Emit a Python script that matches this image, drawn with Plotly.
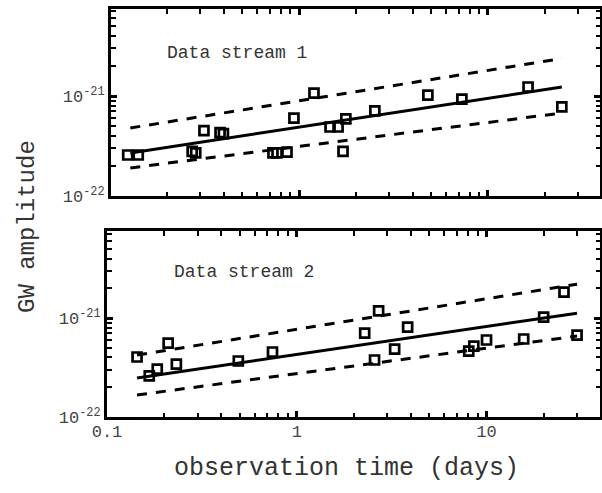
import plotly.graph_objects as go

# ---- Data stream 1 (top panel) ----
t1 = [0.124, 0.141, 0.272, 0.284, 0.314, 0.382, 0.398, 0.728, 0.765, 0.864, 0.94,
      1.20, 1.46, 1.61, 1.71, 1.77, 2.52, 4.81, 7.28, 16.3, 24.6]
h1 = [2.57e-22, 2.57e-22, 2.80e-22, 2.70e-22, 4.50e-22, 4.30e-22, 4.20e-22, 2.70e-22,
      2.70e-22, 2.75e-22, 6.00e-22, 1.07e-21, 4.90e-22, 4.90e-22, 2.80e-22, 5.90e-22,
      7.10e-22, 1.02e-21, 9.30e-22, 1.23e-21, 7.80e-22]
fit1_t = [0.128, 24.6]
fit1_mid = [2.69e-22, 1.23e-21]
fit1_hi = [4.79e-22, 2.37e-21]
fit1_lo = [1.91e-22, 6.75e-22]

# ---- Data stream 2 (bottom panel) ----
t2 = [0.144, 0.167, 0.184, 0.210, 0.232, 0.492, 0.745, 2.28, 2.70, 2.57, 3.28, 3.84,
      8.06, 8.57, 10.0, 15.7, 20.0, 25.6, 30.0]
h2 = [4.04e-22, 2.60e-22, 3.05e-22, 5.58e-22, 3.43e-22, 3.68e-22, 4.54e-22, 7.05e-22,
      1.18e-21, 3.77e-22, 4.86e-22, 8.10e-22, 4.64e-22, 5.21e-22, 6.00e-22, 6.14e-22,
      1.02e-21, 1.83e-21, 6.73e-22]
fit2_t = [0.144, 30.0]
fit2_mid = [2.48e-22, 1.12e-21]
fit2_hi = [4.23e-22, 2.20e-21]
fit2_lo = [1.67e-22, 6.58e-22]

# tick labels
y_tickvals = [1e-22, 1e-21]
y_ticktext = ["10<sup>-22</sup>", "10<sup>-21</sup>"]
x_tickvals = [0.1, 1, 10]
x_ticktext = ["0.1", "1", "10"]

FONT = "Liberation Mono, Courier New, monospace"
W, H = 602, 493

marker = dict(symbol="square-open", size=9, color="black", line=dict(width=2.7, color="black"))
solid = dict(color="black", width=3)
dashed = dict(color="black", width=3, dash="10px,9px")

fig = go.Figure()

def add_panel(t, h, ft, fmid, fhi, flo, xa, ya):
    fig.add_trace(go.Scatter(x=ft, y=fhi, mode="lines", line=dashed, xaxis=xa, yaxis=ya))
    fig.add_trace(go.Scatter(x=ft, y=flo, mode="lines", line=dashed, xaxis=xa, yaxis=ya))
    fig.add_trace(go.Scatter(x=ft, y=fmid, mode="lines", line=solid, xaxis=xa, yaxis=ya))
    fig.add_trace(go.Scatter(x=t, y=h, mode="markers", marker=marker, xaxis=xa, yaxis=ya))

add_panel(t1, h1, fit1_t, fit1_mid, fit1_hi, fit1_lo, "x2", "y2")
add_panel(t2, h2, fit2_t, fit2_mid, fit2_hi, fit2_lo, "x", "y")

def ax(domain, rng, showlabels, anchor, tv, tt, standoff=0):
    return dict(
        type="log", domain=domain, range=rng, anchor=anchor, automargin=False,
        showline=True, linewidth=3, linecolor="black", mirror="allticks",
        ticks="inside", ticklen=6, tickwidth=2.5, tickcolor="black",
        tickmode="array", tickvals=tv, ticktext=tt,
        showgrid=False, zeroline=False, showticklabels=showlabels,
        ticklabelstandoff=standoff,
        tickfont=dict(family=FONT, size=17, color="#444"),
        minor=dict(ticks="inside", ticklen=4.5, tickwidth=1.5, tickcolor="black",
                   dtick="D1", showgrid=False),
    )

y_top = [1 - 196 / H, 1 - 9 / H]
y_bot = [1 - 417 / H, 1 - 231 / H]

fig.update_layout(
    width=W, height=H, margin=dict(l=0, r=0, t=0, b=0, autoexpand=False),
    paper_bgcolor="white", plot_bgcolor="white", showlegend=False,
    font=dict(family=FONT, color="#333"),
    xaxis=ax([107 / W, 600 / W], [-1.0, 1.598], True, "y", x_tickvals, x_ticktext, -3),
    yaxis=ax(y_bot, [-22, -20.12], True, "x", y_tickvals, y_ticktext),
    xaxis2=ax([111 / W, 600 / W], [-0.995, 1.593], False, "y2", x_tickvals, x_ticktext),
    yaxis2=ax(y_top, [-22, -20.13], True, "x2", y_tickvals, y_ticktext),
    annotations=[
        dict(text="Data stream 1", x=165 / W, y=1 - 53 / H, xref="paper", yref="paper",
             xanchor="left", yanchor="middle", showarrow=False,
             font=dict(family=FONT, size=18, color="#333")),
        dict(text="Data stream 2", x=172 / W, y=1 - 272 / H, xref="paper", yref="paper",
             xanchor="left", yanchor="middle", showarrow=False,
             font=dict(family=FONT, size=18, color="#333")),
        dict(text="observation time (days)", x=346.5 / W, y=1 - 468 / H, xref="paper",
             yref="paper", xanchor="center", yanchor="middle", showarrow=False,
             font=dict(family=FONT, size=25, color="#333")),
        dict(text="GW amplitude", x=27 / W, y=1 - 227 / H, xref="paper", yref="paper",
             xanchor="center", yanchor="middle", showarrow=False, textangle=-90,
             font=dict(family=FONT, size=24, color="#333")),
    ],
)

fig.write_html("out.html")
